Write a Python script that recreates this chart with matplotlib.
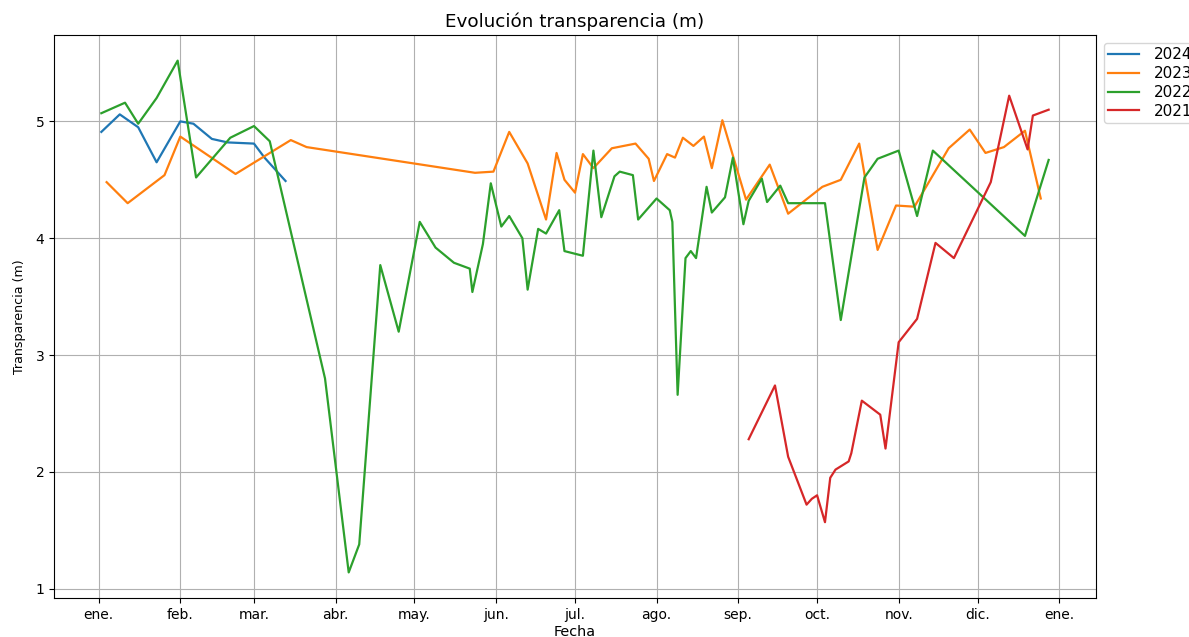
import numpy as np
import pandas as pd
import matplotlib
matplotlib.use("Agg")
import matplotlib.pyplot as plt
import matplotlib.dates as mdates
from matplotlib.ticker import FuncFormatter

# fechas (mes-dia) y transparencia (m) por año
fechas_2024 = ["01-02", "01-09", "01-16", "01-23", "02-01", "02-06", "02-13",
               "02-19", "03-01", "03-05", "03-13"]
valores_2024 = [4.91, 5.06, 4.95, 4.65, 5.00, 4.98, 4.85, 4.82, 4.81, 4.69, 4.49]

fechas_2023 = ["01-04", "01-12", "01-26", "02-01", "02-22", "03-15", "03-21",
               "05-24", "05-31", "06-06", "06-13", "06-20", "06-24", "06-27",
               "07-01", "07-04", "07-08", "07-15", "07-24", "07-29", "07-31",
               "08-05", "08-08", "08-11", "08-15", "08-19", "08-22", "08-26",
               "09-04", "09-13", "09-20", "10-03", "10-10", "10-17", "10-24",
               "10-31", "11-07", "11-20", "11-28", "12-04", "12-11", "12-19",
               "12-25"]
valores_2023 = [4.48, 4.30, 4.54, 4.87, 4.55, 4.84, 4.78,
                4.56, 4.57, 4.91, 4.64, 4.16, 4.73, 4.50,
                4.39, 4.72, 4.60, 4.77, 4.81, 4.68, 4.49,
                4.72, 4.69, 4.86, 4.79, 4.87, 4.60, 5.01,
                4.33, 4.63, 4.21, 4.44, 4.50, 4.81, 3.90,
                4.28, 4.27, 4.77, 4.93, 4.73, 4.78, 4.92,
                4.34]

fechas_2022 = ["01-02", "01-11", "01-16", "01-23", "01-31", "02-07", "02-20",
               "03-01", "03-07", "03-28", "04-06", "04-10", "04-18", "04-25",
               "05-03", "05-09", "05-16", "05-22", "05-23", "05-27", "05-30",
               "06-03", "06-06", "06-11", "06-13", "06-17", "06-20", "06-25",
               "06-27", "07-04", "07-08", "07-11", "07-16", "07-18", "07-23",
               "07-25", "08-01", "08-06", "08-07", "08-09", "08-12", "08-14",
               "08-16", "08-20", "08-22", "08-27", "08-30", "09-03", "09-05",
               "09-10", "09-12", "09-17", "09-20", "10-04", "10-10", "10-19",
               "10-24", "11-01", "11-08", "11-14", "12-19", "12-28"]
valores_2022 = [5.07, 5.16, 4.98, 5.20, 5.52, 4.52, 4.86,
                4.96, 4.83, 2.80, 1.14, 1.38, 3.77, 3.20,
                4.14, 3.92, 3.79, 3.74, 3.54, 3.95, 4.47,
                4.10, 4.19, 4.00, 3.56, 4.08, 4.04, 4.24,
                3.89, 3.85, 4.75, 4.18, 4.53, 4.57, 4.54,
                4.16, 4.34, 4.24, 4.14, 2.66, 3.83, 3.89,
                3.83, 4.44, 4.22, 4.35, 4.69, 4.12, 4.32,
                4.51, 4.31, 4.45, 4.30, 4.30, 3.30, 4.52,
                4.68, 4.75, 4.19, 4.75, 4.02, 4.67]

fechas_2021 = ["09-05", "09-15", "09-20", "09-27", "09-29", "10-01", "10-04",
               "10-06", "10-08", "10-13", "10-14", "10-18", "10-25", "10-27",
               "11-01", "11-08", "11-15", "11-22", "12-06", "12-13", "12-20",
               "12-22", "12-28"]
valores_2021 = [2.28, 2.74, 2.13, 1.72, 1.77, 1.80, 1.57,
                1.95, 2.02, 2.09, 2.16, 2.61, 2.49, 2.20,
                3.11, 3.31, 3.96, 3.83, 4.48, 5.22, 4.76,
                5.05, 5.10]

series = [("2024", fechas_2024, valores_2024),
          ("2023", fechas_2023, valores_2023),
          ("2022", fechas_2022, valores_2022),
          ("2021", fechas_2021, valores_2021)]

meses = ["ene.", "feb.", "mar.", "abr.", "may.", "jun.", "jul.", "ago.",
         "sep.", "oct.", "nov.", "dic."]


def a_fecha(md):
    # todos los años sobre un mismo año ficticio
    return pd.to_datetime(["2023-" + s for s in md])


fig = plt.figure(figsize=(11.89, 6.37), dpi=100)
ax = fig.add_axes([0.0454, 0.0612, 0.8764, 0.8838])

for nombre, fechas, valores in series:
    ax.plot(a_fecha(fechas), valores, label=nombre, linewidth=1.6)

ax.set_xticks(pd.date_range("2023-01-01", "2024-01-01", freq="MS"))
ax.xaxis.set_major_formatter(FuncFormatter(
    lambda x, pos: meses[mdates.num2date(x).month - 1]))
ax.set_yticks([1, 2, 3, 4, 5])

ax.set_title("Evolución transparencia (m)", fontsize=13.2)
ax.set_xlabel("Fecha", fontsize=10.4, labelpad=2)
ax.set_ylabel("Transparencia (m)", fontsize=9.1, labelpad=7)
ax.grid(True)
ax.legend(loc="upper left", bbox_to_anchor=(1.0, 1.0), fontsize=11,
          labelspacing=0.25, borderpad=0.3, handletextpad=1.0)

fig.savefig("out.png", dpi=100)
